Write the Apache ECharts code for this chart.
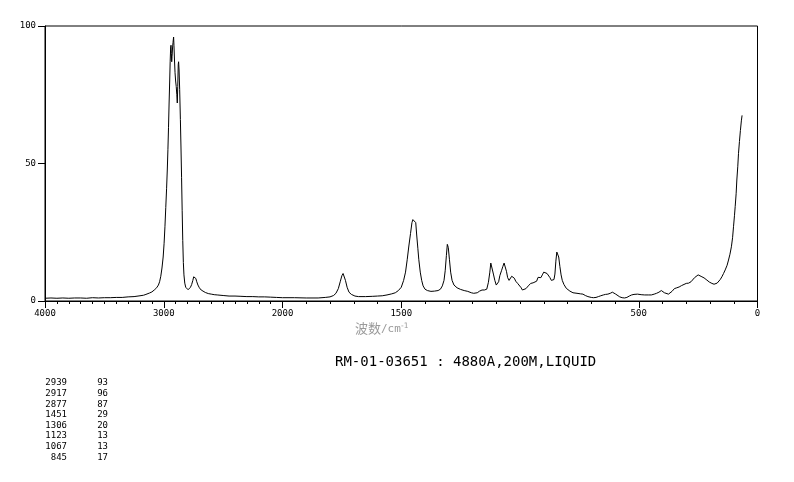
<!DOCTYPE html>
<html><head><meta charset="utf-8">
<script src="https://cdn.jsdelivr.net/npm/echarts@6/dist/echarts.min.js"></script>
<style>html,body{margin:0;padding:0;background:#fff}#c{width:794px;height:482px}</style>
</head><body><div id="c"></div>
<script>
// ---- data ----
const wavenumbers = [
4000,3950,3900,3850,3800,3750,3700,3650,3600,3550,3500,3450,3400,3350,3300,3250,3200,3170,3150,3120,
3100,3080,3060,3045,3035,3025,3015,3005,2997,2990,2983,2976,2970,2965,2960,2955,2950,2946,2942,2939,
2936,2933,2930,2926,2922,2917,2914,2910,2905,2900,2895,2890,2886,2882,2878,2875,2871,2866,2860,2855,
2850,2845,2840,2835,2830,2823,2815,2805,2795,2785,2775,2765,2755,2748,2742,2737,2730,2722,2712,2700,
2685,2670,2650,2625,2600,2575,2550,2500,2450,2400,2350,2300,2250,2200,2150,2100,2050,2000,1950,1900,
1850,1820,1800,1785,1775,1765,1757,1750,1745,1740,1735,1728,1720,1710,1695,1680,1650,1620,1600,1580,
1560,1540,1525,1512,1500,1490,1482,1475,1468,1461,1455,1451,1447,1443,1439,1435,1430,1426,1420,1414,
1408,1400,1390,1375,1360,1345,1335,1327,1320,1315,1310,1306,1302,1297,1292,1286,1278,1265,1250,1235,
1220,1205,1195,1180,1170,1160,1150,1140,1133,1127,1123,1118,1112,1106,1100,1095,1090,1085,1078,1072,
1067,1062,1057,1052,1046,1040,1035,1030,1024,1018,1010,1002,995,990,982,975,965,955,945,938,
930,924,918,912,906,900,893,886,880,874,868,862,857,853,849,845,841,837,832,827,
822,815,805,790,777,760,745,735,725,714,700,691,680,670,660,649,640,630,620,611,
605,597,590,580,570,560,550,540,530,520,505,490,475,460,447,435,425,415,405,400,
392,385,375,368,360,350,340,330,320,312,300,290,280,272,265,258,250,242,234,225,
213,203,192,183,176,170,164,157,150,143,136,128,122,116,110,105,101,97,94,90,
87,83,80,76,72,68,65];
const intensities = [
1.0,1.1,1.0,1.1,1.0,1.1,1.1,1.0,1.2,1.1,1.2,1.2,1.3,1.3,1.5,1.6,1.9,2.1,2.4,2.9,
3.3,4.0,4.8,5.8,7.0,9.0,12,16,21,27,34,41,48,55,63,72,80,87,92,93,
90,87,89,92,94,96,93,88,83,80,78,75,72,78,86,87,84,77,66,56,
45,33,22,14,9.5,6.5,5.0,4.3,4.1,4.4,5.0,6.0,7.5,8.8,9.4,9.2,8.2,7.0,5.8,4.8,
4.0,3.5,3.1,2.7,2.5,2.3,2.2,2.0,1.8,1.8,1.7,1.6,1.6,1.5,1.5,1.4,1.3,1.2,1.2,1.1,
1.1,1.3,1.5,2.0,2.8,4.5,7.0,9.2,10,9.6,7.5,5.0,3.2,2.4,1.8,1.6,1.6,1.7,1.8,1.9,
2.2,2.6,3.0,3.8,5.0,7.5,10.5,15,20,24.5,28.5,29.6,29,29.5,28.5,24,19,15,10.5,7.5,
5.5,4.3,3.8,3.5,3.6,3.8,4.3,5.5,7.5,11,16.5,20.6,19.5,15,10.5,7.5,5.8,4.8,4.2,3.8,
3.5,3.0,2.8,3.0,3.6,4.0,4.0,4.3,6.8,10.5,13.8,13.2,9.8,7.5,5.8,5.5,7,9.2,11,12.6,
13.8,13.2,10.8,8.5,7.5,8,9.0,9.4,8.3,7.2,6.4,5.8,4.8,4.0,4.1,4.5,5.5,6.4,6.6,7.0,
7.2,8.6,8.8,8.5,9.5,10.5,10.3,10.0,9.7,8.5,7.5,7.0,7.8,9.8,14.5,17.8,18.2,16,12.5,9.5,
7.5,6.0,4.6,3.6,3.0,2.8,2.6,2.5,2.0,1.6,1.3,1.2,1.3,1.6,1.9,2.2,2.4,2.5,2.8,3.2,
3.0,2.5,2.0,1.5,1.2,1.1,1.3,1.8,2.2,2.4,2.5,2.3,2.2,2.2,2.2,2.5,2.8,3.2,3.8,3.6,
3.0,2.6,2.5,3.0,3.5,4.5,4.8,5.1,5.6,6.3,6.4,6.5,7.0,7.6,8.5,9.2,9.5,9.2,8.8,8.4,
7.6,6.9,6.4,6.1,6.1,6.5,7.0,7.8,8.8,10,11.3,13,14.9,17,19.7,23,27,31,34.3,39,
44,49,53.7,58,62,65.5,67.5];
const xTickLabels = [4000, 3000, 2000, 1500, 500, 0];
const yTickLabels = [0, 50, 100];
const peakWavenumbers = [2939, 2917, 2877, 1451, 1306, 1123, 1067, 845];
const peakIntensities = [93, 96, 87, 29, 20, 13, 13, 17];
const axisTitleCJK = '波数';
const axisTitleUnit = '/cm';
const axisTitleSup = '-1';
const sampleLabel = 'RM-01-03651 : 4880A,200M,LIQUID';

// axis is compressed 2:1 above 2000 cm-1
function toU(w){ return w > 2000 ? 2000 + (w - 2000) / 2 : w; }
function fromU(u){ return u > 2000 ? 2000 + (u - 2000) * 2 : u; }

const seriesData = wavenumbers.map((w, i) => [toU(w), intensities[i]]);
const minorTickWn = [];
for (let w = 0; w <= 4000; w += 100) minorTickWn.push(w);
const minorTickU = minorTickWn.map(toU);

const MONO = '"DejaVu Sans Mono", monospace';
const chart = echarts.init(document.getElementById('c'), null, {renderer: 'canvas'});

const graphics = [
  {type:'text', left: 355, top: 322, style:{text: axisTitleCJK, fill:'#9a9a9a', font:'13px "Noto Sans CJK SC", sans-serif'}},
  {type:'text', left: 381, top: 324, style:{text: axisTitleUnit, fill:'#9a9a9a', font:'11px "DejaVu Sans Mono", monospace'}},
  {type:'text', left: 401, top: 322, style:{text: axisTitleSup, fill:'#9a9a9a', font:'7.5px "DejaVu Sans", sans-serif'}},
  {type:'text', left: 335, top: 355, style:{text: sampleLabel, fill:'#000', font:'14px ' + MONO}}
];
peakWavenumbers.forEach((w, i) => {
  graphics.push({type:'text', x: 67, y: 383 + i * 10.6, style:{text: String(w), fill:'#000', font:'9px ' + MONO, align:'right', verticalAlign:'middle'}});
  graphics.push({type:'text', x: 108, y: 383 + i * 10.6, style:{text: String(peakIntensities[i]), fill:'#000', font:'9px ' + MONO, align:'right', verticalAlign:'middle'}});
});

const baseX = {type:'value', min:0, max:3000, inverse:true, position:'bottom', splitLine:{show:false}};
chart.setOption({
  animation: false,
  backgroundColor: '#fff',
  grid: {left:45, right:36.5, top:26, bottom:181, containLabel:false, outerBoundsMode:'none',
         show:true, borderColor:'#000', borderWidth:1, backgroundColor:'transparent'},
  xAxis: [
    Object.assign({}, baseX, {
      axisLine:{show:true, onZero:false, lineStyle:{color:'#000', width:1}},
      axisTick:{show:true, length:3, customValues: minorTickU, lineStyle:{color:'#000', width:1}},
      axisLabel:{show:true, customValues: minorTickU, formatter: () => '', hideOverlap:false, showMinLabel:true, showMaxLabel:true}
    }),
    Object.assign({}, baseX, {
      axisLine:{show:false, onZero:false},
      axisTick:{show:true, length:7, customValues: xTickLabels.map(toU), lineStyle:{color:'#000'}},
      axisLabel:{show:true, customValues: xTickLabels.map(toU), margin:8, color:'#000',
        fontFamily:'DejaVu Sans Mono', fontSize:9,
        formatter: v => String(Math.round(fromU(v)))}
    })
  ],
  yAxis: {
    type:'value', min:0, max:100, interval:50,
    splitLine:{show:false},
    axisLine:{show:true, onZero:false, lineStyle:{color:'#000', width:1}},
    axisTick:{show:true, length:7, lineStyle:{color:'#000'}},
    axisLabel:{margin:9, color:'#000', fontFamily:'DejaVu Sans Mono', fontSize:9,
      customValues: yTickLabels, formatter: v => String(v)}
  },
  series: [{
    type:'line', xAxisIndex:0, yAxisIndex:0, data: seriesData,
    showSymbol:false, symbol:'none', smooth:false,
    lineStyle:{color:'#000', width:1}
  }],
  graphic: graphics
});
</script></body></html>
